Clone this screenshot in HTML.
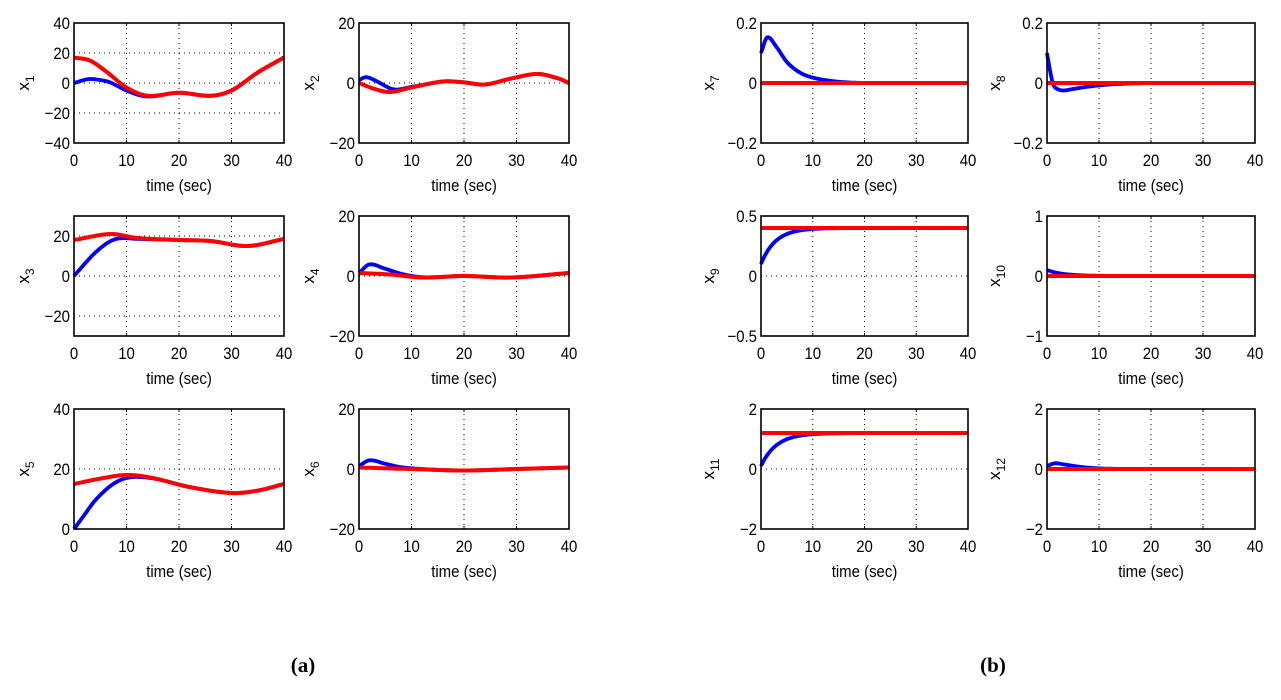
<!DOCTYPE html>
<html><head><meta charset="utf-8"><style>
body{margin:0;background:#fff;}
svg text{font-family:"Liberation Sans",sans-serif;}
</style></head><body>
<svg id="s" width="1281" height="695" xmlns="http://www.w3.org/2000/svg"></svg>
<script>
const S=document.getElementById('s');
let h='';
function interp(pts,t){
  if(t<=pts[0][0])return pts[0][1];
  if(t>=pts[pts.length-1][0])return pts[pts.length-1][1];
  let i=0;while(t>pts[i+1][0])i++;
  const p0=pts[Math.max(i-1,0)],p1=pts[i],p2=pts[i+1],p3=pts[Math.min(i+2,pts.length-1)];
  const u=(t-p1[0])/(p2[0]-p1[0]),dt=p2[0]-p1[0];
  const m1=(p2[1]-p0[1])/(p2[0]-p0[0]||1)*dt, m2=(p3[1]-p1[1])/(p3[0]-p1[0]||1)*dt;
  const u2=u*u,u3=u2*u;
  return (2*u3-3*u2+1)*p1[1]+(u3-2*u2+u)*m1+(-2*u3+3*u2)*p2[1]+(u3-u2)*m2;
}
const cols=[74,359,761,1047],W=[210,210,207,208],rows=[23,216,409],H=120;
function txt(x,y,s,anchor,size){return `<text transform="translate(${x},${y}) scale(0.88,1)" font-size="${size}" text-anchor="${anchor}">${s}</text>`;}
function plot(c,r,lab,ymin,ymax,yt,red,blue){
  const x0=cols[c],w=W[c],y0=rows[r];
  const X=t=>x0+t/40*w,Y=v=>y0+(ymax-v)/(ymax-ymin)*H;
  [10,20,30].forEach(t=>h+=`<line x1="${X(t)}" y1="${y0}" x2="${X(t)}" y2="${y0+H}" stroke="#000" stroke-width="1" stroke-dasharray="1,4"/>`);
  yt.forEach(v=>{if(v>ymin&&v<ymax)h+=`<line x1="${x0}" y1="${Y(v)}" x2="${x0+w}" y2="${Y(v)}" stroke="#000" stroke-width="1" stroke-dasharray="1,4"/>`;});
  const path=f=>{let d='';for(let i=0;i<=400;i++){const t=i/10;d+=(i?'L':'M')+X(t).toFixed(1)+','+Y(f(t)).toFixed(1);}return d;};
  h+=`<path d="${path(blue)}" fill="none" stroke="#0000ff" stroke-width="3.8"/>`;
  h+=`<path d="${path(red)}" fill="none" stroke="#ff0000" stroke-width="4"/>`;
  h+=`<rect x="${x0}" y="${y0}" width="${w}" height="${H}" fill="none" stroke="#000" stroke-width="1.6"/>`;
  [0,10,20,30,40].forEach(t=>{h+=`<line x1="${X(t)}" y1="${y0+H}" x2="${X(t)}" y2="${y0+H-3}" stroke="#000"/><line x1="${X(t)}" y1="${y0}" x2="${X(t)}" y2="${y0+3}" stroke="#000"/>`;
    h+=txt(X(t),y0+H+23,t,'middle',17);});
  yt.forEach(v=>{const s=String(v).replace('-','\u2212');h+=txt(x0-4,Y(v)+6,s,'end',17);});
  h+=txt(x0+w/2,y0+H+48,'time (sec)','middle',17);
  const lx=c==0?29:c==1?314:c==2?714:1000;
  h+=`<text transform="translate(${lx},${y0+H/2}) rotate(-90)" font-size="17" text-anchor="middle">x<tspan font-size="12" dy="5">${lab}</tspan></text>`;
}
const P=p=>t=>interp(p,t);
const r1=P([[0,17],[3,15],[6,8],[10,-3],[14,-8.5],[20,-6.5],[26,-8.5],[30,-5],[35,7],[40,17]]);
plot(0,0,'1',-40,40,[40,20,0,-20,-40],r1,t=>r1(t)-interp([[0,17],[3.5,11.5],[7,5],[10,2],[14,0.5],[18,0]],t));
const r2=P([[0,0],[3,-2],[6,-3],[10,-1.5],[16,0.5],[20,0.2],[24,-0.5],[29,1.5],[34,3],[38,1.5],[40,0]]);
plot(1,0,'2',-20,20,[20,0,-20],r2,t=>r2(t)+interp([[0,1],[1.5,3],[4,2.5],[7,0.6],[10,0.2],[14,0]],t));
const r3=P([[0,18],[7,21],[12,19],[20,18],[26,17.5],[33,15],[40,18.5]]);
plot(0,1,'3',-30,30,[20,0,-20],r3,t=>r3(t)-interp([[0,18],[2,13],[4,8.5],[7,3.5],[10,1],[14,0.2],[18,0]],t));
const r4=P([[0,1],[6,0.5],[12,-0.5],[20,0],[29,-0.5],[40,1]]);
plot(1,1,'4',-20,20,[20,0,-20],r4,t=>r4(t)+interp([[0,0],[2,3],[5,1.8],[8,0.6],[12,0.1],[15,0]],t));
const r5=P([[0,15],[5,16.8],[10,18],[15,17],[22,14],[30,12],[35,12.8],[40,15]]);
plot(0,2,'5',0,40,[40,20,0],r5,t=>r5(t)-interp([[0,15],[2,11],[4,7],[7,3],[10,1],[14,0.2],[18,0]],t));
const r6=P([[0,0.5],[10,0],[20,-0.5],[30,0],[40,0.5]]);
plot(1,2,'6',-20,20,[20,0,-20],r6,t=>r6(t)+interp([[0,0.5],[2,2.5],[5,1.5],[8,0.5],[12,0.1],[15,0]],t));
const z=t=>0;
plot(2,0,'7',-0.2,0.2,[0.2,0,-0.2],z,P([[0,0.1],[1.2,0.152],[3,0.12],[5,0.07],[7.5,0.035],[10,0.018],[14,0.006],[18,0.001],[22,0]]));
plot(3,0,'8',-0.2,0.2,[0.2,0,-0.2],z,P([[0,0.1],[0.6,0.04],[1.2,-0.005],[2,-0.02],[3.2,-0.025],[5,-0.02],[8,-0.012],[12,-0.005],[17,-0.001],[22,0]]));
plot(2,1,'9',-0.5,0.5,[0.5,0,-0.5],t=>0.4,t=>0.4-0.3*Math.exp(-t/2.8));
plot(3,1,'10',-1,1,[1,0,-1],z,t=>0.1*Math.exp(-t/3));
plot(2,2,'11',-2,2,[2,0,-2],t=>1.2,t=>1.2-1.1*Math.exp(-t/3));
plot(3,2,'12',-2,2,[2,0,-2],z,P([[0,0.1],[1.5,0.19],[3,0.16],[6,0.08],[9,0.03],[13,0.005],[18,0]]));
h+=`<text x="303" y="672" font-size="21" font-weight="bold" text-anchor="middle" style="font-family:'Liberation Serif',serif">(a)</text>`;
h+=`<text x="993" y="672" font-size="21" font-weight="bold" text-anchor="middle" style="font-family:'Liberation Serif',serif">(b)</text>`;
S.innerHTML=h;
</script>
</body></html>
